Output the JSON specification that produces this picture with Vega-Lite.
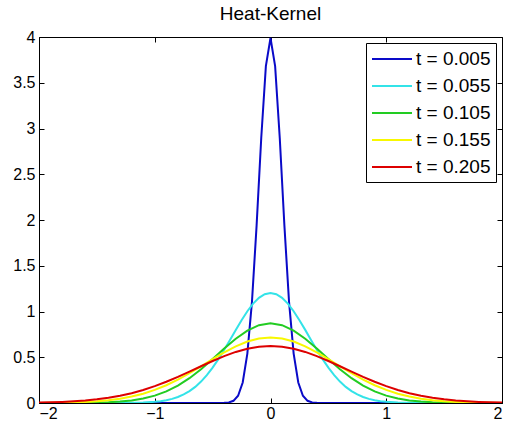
{
  "$schema": "https://vega.github.io/schema/vega-lite/v6.json",
  "width": 463,
  "height": 366,
  "autosize": {"type": "none"},
  "padding": {"left": 39, "top": 37, "right": 4, "bottom": 24},
  "background": "white",
  "title": {"text": "Heat-Kernel", "font": "Liberation Sans", "fontSize": 19, "fontWeight": "normal", "color": "black", "offset": 5},
  "config": {
    "view": {"stroke": "black", "strokeWidth": 1},
    "axis": {"grid": false, "domainColor": "black", "tickColor": "black", "labelColor": "black", "labelFont": "Liberation Sans", "labelFontSize": 16, "tickSize": -5, "title": null}
  },
  "data": {"values": [
    {"s":"t = 0.005","x":-2,"y":0},{"s":"t = 0.005","x":-0.44,"y":0},{"s":"t = 0.005","x":-0.4,"y":0.0018},{"s":"t = 0.005","x":-0.36,"y":0.006},{"s":"t = 0.005","x":-0.32,"y":0.024},{"s":"t = 0.005","x":-0.28,"y":0.079},{"s":"t = 0.005","x":-0.24,"y":0.224},{"s":"t = 0.005","x":-0.2,"y":0.54},{"s":"t = 0.005","x":-0.16,"y":1.108},{"s":"t = 0.005","x":-0.12,"y":1.941},{"s":"t = 0.005","x":-0.08,"y":2.896},{"s":"t = 0.005","x":-0.04,"y":3.682},{"s":"t = 0.005","x":0,"y":3.989},{"s":"t = 0.005","x":0.04,"y":3.682},{"s":"t = 0.005","x":0.08,"y":2.896},{"s":"t = 0.005","x":0.12,"y":1.941},{"s":"t = 0.005","x":0.16,"y":1.108},{"s":"t = 0.005","x":0.2,"y":0.54},{"s":"t = 0.005","x":0.24,"y":0.224},{"s":"t = 0.005","x":0.28,"y":0.079},{"s":"t = 0.005","x":0.32,"y":0.024},{"s":"t = 0.005","x":0.36,"y":0.006},{"s":"t = 0.005","x":0.4,"y":0.0018},{"s":"t = 0.005","x":0.44,"y":0},{"s":"t = 0.005","x":2,"y":0},

    {"s":"t = 0.055","x":-2,"y":0},{"s":"t = 0.055","x":-1.5,"y":0},{"s":"t = 0.055","x":-1.4,"y":0.0002},{"s":"t = 0.055","x":-1.3,"y":0.0006},{"s":"t = 0.055","x":-1.2,"y":0.0017},{"s":"t = 0.055","x":-1.1,"y":0.0049},{"s":"t = 0.055","x":-1.0,"y":0.0128},{"s":"t = 0.055","x":-0.95,"y":0.0199},{"s":"t = 0.055","x":-0.9,"y":0.0303},{"s":"t = 0.055","x":-0.85,"y":0.0451},{"s":"t = 0.055","x":-0.8,"y":0.0656},{"s":"t = 0.055","x":-0.75,"y":0.0933},{"s":"t = 0.055","x":-0.7,"y":0.1297},{"s":"t = 0.055","x":-0.65,"y":0.1763},{"s":"t = 0.055","x":-0.6,"y":0.2342},{"s":"t = 0.055","x":-0.55,"y":0.3041},{"s":"t = 0.055","x":-0.5,"y":0.3861},{"s":"t = 0.055","x":-0.45,"y":0.4792},{"s":"t = 0.055","x":-0.4,"y":0.5812},{"s":"t = 0.055","x":-0.35,"y":0.6893},{"s":"t = 0.055","x":-0.3,"y":0.7991},{"s":"t = 0.055","x":-0.25,"y":0.9054},{"s":"t = 0.055","x":-0.2,"y":1.003},{"s":"t = 0.055","x":-0.15,"y":1.086},{"s":"t = 0.055","x":-0.1,"y":1.1495},{"s":"t = 0.055","x":-0.05,"y":1.1893},{"s":"t = 0.055","x":0,"y":1.2029},{"s":"t = 0.055","x":0.05,"y":1.1893},{"s":"t = 0.055","x":0.1,"y":1.1495},{"s":"t = 0.055","x":0.15,"y":1.086},{"s":"t = 0.055","x":0.2,"y":1.003},{"s":"t = 0.055","x":0.25,"y":0.9054},{"s":"t = 0.055","x":0.3,"y":0.7991},{"s":"t = 0.055","x":0.35,"y":0.6893},{"s":"t = 0.055","x":0.4,"y":0.5812},{"s":"t = 0.055","x":0.45,"y":0.4792},{"s":"t = 0.055","x":0.5,"y":0.3861},{"s":"t = 0.055","x":0.55,"y":0.3041},{"s":"t = 0.055","x":0.6,"y":0.2342},{"s":"t = 0.055","x":0.65,"y":0.1763},{"s":"t = 0.055","x":0.7,"y":0.1297},{"s":"t = 0.055","x":0.75,"y":0.0933},{"s":"t = 0.055","x":0.8,"y":0.0656},{"s":"t = 0.055","x":0.85,"y":0.0451},{"s":"t = 0.055","x":0.9,"y":0.0303},{"s":"t = 0.055","x":0.95,"y":0.0199},{"s":"t = 0.055","x":1.0,"y":0.0128},{"s":"t = 0.055","x":1.1,"y":0.0049},{"s":"t = 0.055","x":1.2,"y":0.0017},{"s":"t = 0.055","x":1.3,"y":0.0006},{"s":"t = 0.055","x":1.4,"y":0.0002},{"s":"t = 0.055","x":1.5,"y":0},{"s":"t = 0.055","x":2,"y":0},

    {"s":"t = 0.105","x":-2,"y":0.0001},{"s":"t = 0.105","x":-1.9,"y":0.0002},{"s":"t = 0.105","x":-1.8,"y":0.0004},{"s":"t = 0.105","x":-1.7,"y":0.0009},{"s":"t = 0.105","x":-1.6,"y":0.002},{"s":"t = 0.105","x":-1.5,"y":0.0041},{"s":"t = 0.105","x":-1.4,"y":0.0082},{"s":"t = 0.105","x":-1.3,"y":0.0156},{"s":"t = 0.105","x":-1.2,"y":0.0282},{"s":"t = 0.105","x":-1.1,"y":0.0488},{"s":"t = 0.105","x":-1.0,"y":0.0805},{"s":"t = 0.105","x":-0.9,"y":0.1265},{"s":"t = 0.105","x":-0.8,"y":0.1897},{"s":"t = 0.105","x":-0.7,"y":0.2711},{"s":"t = 0.105","x":-0.6,"y":0.3695},{"s":"t = 0.105","x":-0.5,"y":0.4801},{"s":"t = 0.105","x":-0.4,"y":0.5948},{"s":"t = 0.105","x":-0.3,"y":0.7027},{"s":"t = 0.105","x":-0.2,"y":0.7915},{"s":"t = 0.105","x":-0.1,"y":0.8501},{"s":"t = 0.105","x":0,"y":0.8706},{"s":"t = 0.105","x":0.1,"y":0.8501},{"s":"t = 0.105","x":0.2,"y":0.7915},{"s":"t = 0.105","x":0.3,"y":0.7027},{"s":"t = 0.105","x":0.4,"y":0.5948},{"s":"t = 0.105","x":0.5,"y":0.4801},{"s":"t = 0.105","x":0.6,"y":0.3695},{"s":"t = 0.105","x":0.7,"y":0.2711},{"s":"t = 0.105","x":0.8,"y":0.1897},{"s":"t = 0.105","x":0.9,"y":0.1265},{"s":"t = 0.105","x":1.0,"y":0.0805},{"s":"t = 0.105","x":1.1,"y":0.0488},{"s":"t = 0.105","x":1.2,"y":0.0282},{"s":"t = 0.105","x":1.3,"y":0.0156},{"s":"t = 0.105","x":1.4,"y":0.0082},{"s":"t = 0.105","x":1.5,"y":0.0041},{"s":"t = 0.105","x":1.6,"y":0.002},{"s":"t = 0.105","x":1.7,"y":0.0009},{"s":"t = 0.105","x":1.8,"y":0.0004},{"s":"t = 0.105","x":1.9,"y":0.0002},{"s":"t = 0.105","x":2,"y":0.0001},

    {"s":"t = 0.155","x":-2,"y":0.0011},{"s":"t = 0.155","x":-1.9,"y":0.0021},{"s":"t = 0.155","x":-1.8,"y":0.0039},{"s":"t = 0.155","x":-1.7,"y":0.0068},{"s":"t = 0.155","x":-1.6,"y":0.0115},{"s":"t = 0.155","x":-1.5,"y":0.019},{"s":"t = 0.155","x":-1.4,"y":0.0304},{"s":"t = 0.155","x":-1.3,"y":0.0469},{"s":"t = 0.155","x":-1.2,"y":0.0702},{"s":"t = 0.155","x":-1.1,"y":0.1018},{"s":"t = 0.155","x":-1.0,"y":0.1428},{"s":"t = 0.155","x":-0.9,"y":0.194},{"s":"t = 0.155","x":-0.8,"y":0.2552},{"s":"t = 0.155","x":-0.7,"y":0.3251},{"s":"t = 0.155","x":-0.6,"y":0.4009},{"s":"t = 0.155","x":-0.5,"y":0.4788},{"s":"t = 0.155","x":-0.4,"y":0.5536},{"s":"t = 0.155","x":-0.3,"y":0.6197},{"s":"t = 0.155","x":-0.2,"y":0.6717},{"s":"t = 0.155","x":-0.1,"y":0.705},{"s":"t = 0.155","x":0,"y":0.7165},{"s":"t = 0.155","x":0.1,"y":0.705},{"s":"t = 0.155","x":0.2,"y":0.6717},{"s":"t = 0.155","x":0.3,"y":0.6197},{"s":"t = 0.155","x":0.4,"y":0.5536},{"s":"t = 0.155","x":0.5,"y":0.4788},{"s":"t = 0.155","x":0.6,"y":0.4009},{"s":"t = 0.155","x":0.7,"y":0.3251},{"s":"t = 0.155","x":0.8,"y":0.2552},{"s":"t = 0.155","x":0.9,"y":0.194},{"s":"t = 0.155","x":1.0,"y":0.1428},{"s":"t = 0.155","x":1.1,"y":0.1018},{"s":"t = 0.155","x":1.2,"y":0.0702},{"s":"t = 0.155","x":1.3,"y":0.0469},{"s":"t = 0.155","x":1.4,"y":0.0304},{"s":"t = 0.155","x":1.5,"y":0.019},{"s":"t = 0.155","x":1.6,"y":0.0115},{"s":"t = 0.155","x":1.7,"y":0.0068},{"s":"t = 0.155","x":1.8,"y":0.0039},{"s":"t = 0.155","x":1.9,"y":0.0021},{"s":"t = 0.155","x":2,"y":0.0011},

    {"s":"t = 0.205","x":-2,"y":0.0047},{"s":"t = 0.205","x":-1.9,"y":0.0076},{"s":"t = 0.205","x":-1.8,"y":0.012},{"s":"t = 0.205","x":-1.7,"y":0.0184},{"s":"t = 0.205","x":-1.6,"y":0.0275},{"s":"t = 0.205","x":-1.5,"y":0.0401},{"s":"t = 0.205","x":-1.4,"y":0.0571},{"s":"t = 0.205","x":-1.3,"y":0.0793},{"s":"t = 0.205","x":-1.2,"y":0.1076},{"s":"t = 0.205","x":-1.1,"y":0.1424},{"s":"t = 0.205","x":-1.0,"y":0.184},{"s":"t = 0.205","x":-0.9,"y":0.232},{"s":"t = 0.205","x":-0.8,"y":0.2855},{"s":"t = 0.205","x":-0.7,"y":0.3428},{"s":"t = 0.205","x":-0.6,"y":0.4016},{"s":"t = 0.205","x":-0.5,"y":0.4593},{"s":"t = 0.205","x":-0.4,"y":0.5126},{"s":"t = 0.205","x":-0.3,"y":0.5582},{"s":"t = 0.205","x":-0.2,"y":0.5933},{"s":"t = 0.205","x":-0.1,"y":0.6154},{"s":"t = 0.205","x":0,"y":0.623},{"s":"t = 0.205","x":0.1,"y":0.6154},{"s":"t = 0.205","x":0.2,"y":0.5933},{"s":"t = 0.205","x":0.3,"y":0.5582},{"s":"t = 0.205","x":0.4,"y":0.5126},{"s":"t = 0.205","x":0.5,"y":0.4593},{"s":"t = 0.205","x":0.6,"y":0.4016},{"s":"t = 0.205","x":0.7,"y":0.3428},{"s":"t = 0.205","x":0.8,"y":0.2855},{"s":"t = 0.205","x":0.9,"y":0.232},{"s":"t = 0.205","x":1.0,"y":0.184},{"s":"t = 0.205","x":1.1,"y":0.1424},{"s":"t = 0.205","x":1.2,"y":0.1076},{"s":"t = 0.205","x":1.3,"y":0.0793},{"s":"t = 0.205","x":1.4,"y":0.0571},{"s":"t = 0.205","x":1.5,"y":0.0401},{"s":"t = 0.205","x":1.6,"y":0.0275},{"s":"t = 0.205","x":1.7,"y":0.0184},{"s":"t = 0.205","x":1.8,"y":0.012},{"s":"t = 0.205","x":1.9,"y":0.0076},{"s":"t = 0.205","x":2,"y":0.0047}
  ]},
  "layer": [
    {
      "mark": {"type": "line", "strokeWidth": 2, "clip": true},
      "encoding": {
        "x": {"field": "x", "type": "quantitative", "scale": {"domain": [-2, 2], "nice": false, "zero": false},
              "axis": {"values": [-2, -1, 0, 1, 2], "format": "~g", "labelPadding": 7, "orient": "bottom"}},
        "y": {"field": "y", "type": "quantitative", "scale": {"domain": [0, 4], "nice": false},
              "axis": {"values": [0, 0.5, 1, 1.5, 2, 2.5, 3, 3.5, 4], "format": "~g", "labelPadding": 9, "orient": "left"}},
        "color": {"field": "s", "type": "nominal",
          "scale": {"domain": ["t = 0.005", "t = 0.055", "t = 0.105", "t = 0.155", "t = 0.205"],
                    "range": ["#0a0ac8", "#33e3e8", "#22cc22", "#f8f800", "#dd0000"]},
          "legend": {"title": null, "orient": "top-right", "offset": 6, "fillColor": "white", "strokeColor": "black",
                     "padding": 5, "symbolType": "M-1,0H3", "symbolSize": 400, "symbolStrokeWidth": 2,
                     "labelFont": "Liberation Sans", "labelFontSize": 19, "labelColor": "black", "labelOffset": 23,
                     "rowPadding": 6}}
      }
    },
    {
      "mark": {"type": "line", "opacity": 0},
      "encoding": {
        "x": {"field": "x", "type": "quantitative", "axis": {"orient": "top", "values": [-2, -1, 0, 1, 2], "labels": false, "domain": false}},
        "y": {"field": "y", "type": "quantitative", "axis": {"orient": "right", "values": [0, 0.5, 1, 1.5, 2, 2.5, 3, 3.5, 4], "labels": false, "domain": false}},
        "detail": {"field": "s"}
      }
    }
  ],
  "resolve": {"axis": {"x": "independent", "y": "independent"}}
}
